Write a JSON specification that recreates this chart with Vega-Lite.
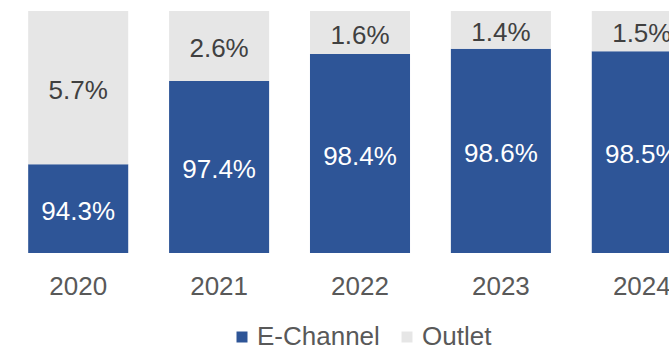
{
  "$schema": "https://vega.github.io/schema/vega-lite/v6.json",
  "width": 669,
  "height": 242,
  "autosize": {"type": "none"},
  "padding": {"left": 0, "top": 11, "right": 0, "bottom": 97},
  "background": "white",
  "config": {"view": {"stroke": null}, "font": "Liberation Sans"},
  "data": {
    "values": [
      {"year": "2020", "channel": "E-Channel", "share": 0.943},
      {"year": "2020", "channel": "Outlet", "share": 0.057},
      {"year": "2021", "channel": "E-Channel", "share": 0.974},
      {"year": "2021", "channel": "Outlet", "share": 0.026},
      {"year": "2022", "channel": "E-Channel", "share": 0.984},
      {"year": "2022", "channel": "Outlet", "share": 0.016},
      {"year": "2023", "channel": "E-Channel", "share": 0.986},
      {"year": "2023", "channel": "Outlet", "share": 0.014},
      {"year": "2024", "channel": "E-Channel", "share": 0.985},
      {"year": "2024", "channel": "Outlet", "share": 0.015}
    ]
  },
  "transform": [
    {"stack": "share", "groupby": ["year"], "sort": [{"field": "channel", "order": "ascending"}], "as": ["s0", "s1"]},
    {"calculate": "(max(datum.s0, 0.91) + min(datum.s1, 1)) / 2", "as": "mid"}
  ],
  "encoding": {
    "x": {
      "field": "year",
      "type": "ordinal",
      "scale": {"range": [0, 720], "paddingInner": 0.29, "paddingOuter": 0.2},
      "axis": {"title": null, "domain": false, "ticks": false, "grid": false, "labelAngle": 0, "labelFontSize": 26, "labelColor": "#595959", "labelPadding": 20}
    }
  },
  "layer": [
    {
      "mark": {"type": "bar"},
      "encoding": {
        "y": {"field": "s1", "type": "quantitative", "scale": {"domain": [0.91, 1], "clamp": true, "nice": false, "zero": false}, "axis": null},
        "y2": {"field": "s0"},
        "color": {
          "field": "channel",
          "type": "nominal",
          "scale": {"domain": ["E-Channel", "Outlet"], "range": ["#2E5597", "#E6E6E6"]},
          "legend": {"title": null, "orient": "none", "legendX": 229, "legendY": 313, "direction": "horizontal", "symbolType": "square", "symbolSize": 121, "symbolStrokeWidth": 0, "labelFontSize": 26, "labelColor": "#595959", "labelOffset": 2, "columnPadding": 14, "padding": 0}
        }
      }
    },
    {
      "mark": {"type": "text", "fontSize": 26, "dy": 3},
      "encoding": {
        "y": {"field": "mid", "type": "quantitative"},
        "text": {"field": "share", "type": "quantitative", "format": ".1%"},
        "color": {"condition": {"test": "datum.channel === 'E-Channel'", "value": "#ffffff"}, "value": "#404040"}
      }
    }
  ]
}
